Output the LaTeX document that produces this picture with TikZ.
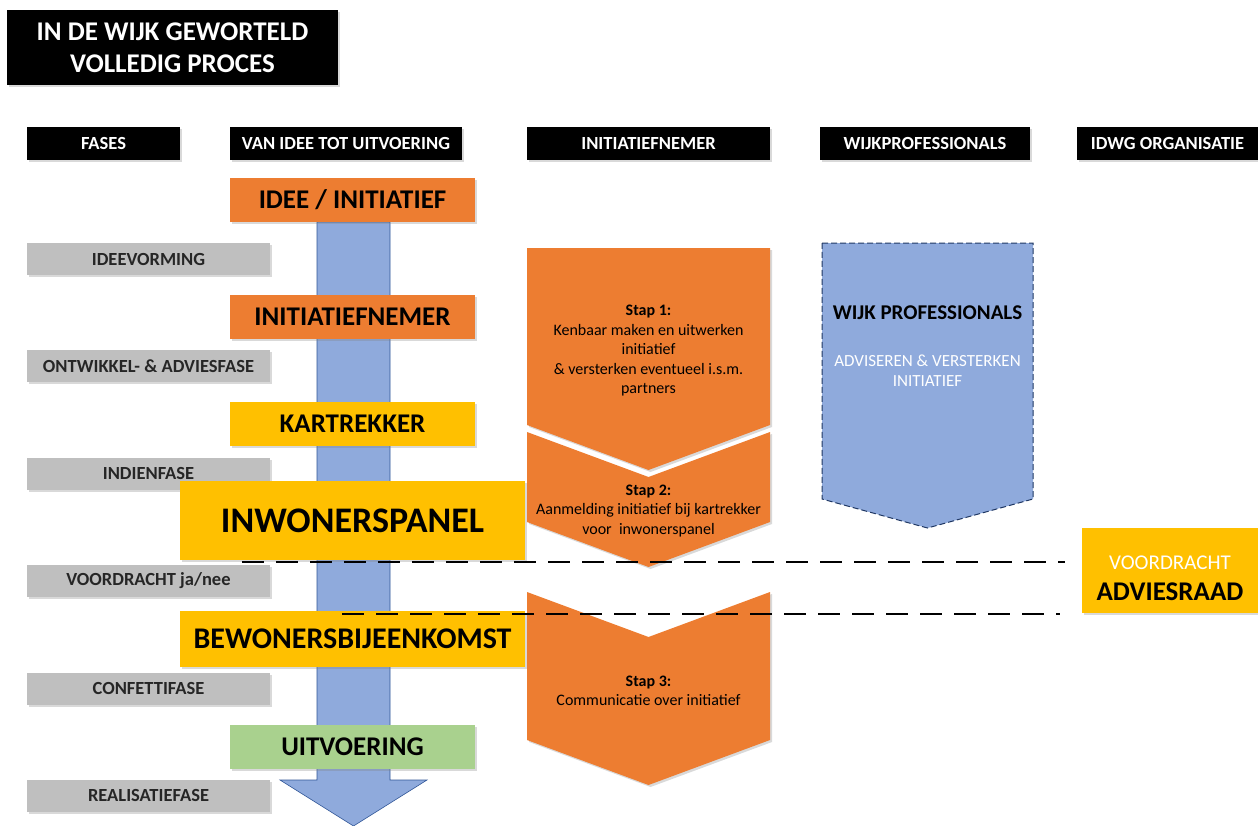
\documentclass[tikz,border=0pt]{standalone}
\usepackage{fontspec}
\setmainfont{Carlito}
\usetikzlibrary{shadows}
\definecolor{oranje}{HTML}{ED7D31}
\definecolor{geel}{HTML}{FFC000}
\definecolor{groen}{HTML}{A9D18E}
\definecolor{grijs}{HTML}{BFBFBF}
\definecolor{blauw}{HTML}{8FAADC}
\definecolor{donkerblauw}{HTML}{2F5597}
\definecolor{nachtblauw}{HTML}{203864}
\begin{document}
\begin{tikzpicture}[x=1pt, y=-1pt]
  \tikzset{
    schaduw/.style={drop shadow={shadow xshift=2pt, shadow yshift=-2pt, opacity=0.3}},
    kopstyle/.style={fill=black, text=white, minimum height=33pt, inner sep=0pt, anchor=center, schaduw, font=\fontsize{18.5}{21}\selectfont\bfseries},
    fasestyle/.style={fill=grijs, text=black!85, minimum width=243pt, minimum height=32pt, inner sep=0pt, anchor=center, schaduw, font=\fontsize{18.5}{21}\selectfont\bfseries},
    stapstyle/.style={minimum width=245pt, minimum height=44pt, inner sep=0pt, anchor=center, schaduw, font=\fontsize{27}{30}\selectfont\bfseries},
    grootstyle/.style={fill=geel, minimum width=345pt, inner sep=0pt, anchor=center, schaduw},
    steptekst/.style={align=center, font=\fontsize{16}{19.5}\selectfont},
    stippel/.style={line width=2.8pt, dash pattern=on 22pt off 12pt}
  }
  \useasboundingbox (0,0) rectangle (1258,825);
  % Titel en kolomkoppen
  \node[fill=black, text=white, minimum width=331pt, minimum height=75pt, align=center, schaduw, font=\fontsize{27}{32}\selectfont\bfseries] (titel) at (172.5,47.5) {IN DE WIJK GEWORTELD\\VOLLEDIG PROCES};
  \node[kopstyle, minimum width=153pt] (kopfases) at (103.5,143.5) {FASES};
  \node[kopstyle, minimum width=232pt] (kopidee) at (346,143.5) {VAN IDEE TOT UITVOERING};
  \node[kopstyle, minimum width=243pt] (kopinit) at (648.5,143.5) {INITIATIEFNEMER};
  \node[kopstyle, minimum width=210pt] (kopwijk) at (925,143.5) {WIJKPROFESSIONALS};
  \node[kopstyle, minimum width=181pt] (kopidwg) at (1167.5,143.5) {IDWG ORGANISATIE};
  % Grote pijl van idee tot uitvoering
  \fill[blauw, draw=donkerblauw, line width=0.6pt] (317,222) -- (390,222) -- (390,780) -- (427,780) -- (353.5,826) -- (280,780) -- (317,780) -- cycle;
  % Fases
  \node[fasestyle] (ideevorming) at (148.5,259) {IDEEVORMING};
  \node[fasestyle] (ontwikkel) at (148.5,366) {ONTWIKKEL- \& ADVIESFASE};
  \node[fasestyle] (indien) at (148.5,473.5) {INDIENFASE};
  \node[fasestyle] (voordracht) at (148.5,581) {VOORDRACHT ja/nee};
  \node[fasestyle] (confetti) at (148.5,688.5) {CONFETTIFASE};
  \node[fasestyle] (realisatie) at (148.5,795.5) {REALISATIEFASE};
  % Stappen van idee tot uitvoering
  \node[stapstyle, fill=oranje] (idee) at (352.5,200) {IDEE / INITIATIEF};
  \node[stapstyle, fill=oranje] (initiatiefnemer) at (352.5,316.5) {INITIATIEFNEMER};
  \node[stapstyle, fill=geel] (kartrekker) at (352.5,424) {KARTREKKER};
  \node[grootstyle, minimum height=79pt, font=\fontsize{36}{40}\selectfont\bfseries] (panel) at (352.5,520.5) {INWONERSPANEL};
  \node[grootstyle, minimum height=56pt, font=\fontsize{30}{34}\selectfont\bfseries] (bijeenkomst) at (352.5,639) {BEWONERSBIJEENKOMST};
  \node[stapstyle, fill=groen] (uitvoering) at (352.5,747) {UITVOERING};
  % Initiatiefnemer: stap 1 t/m 3
  \fill[oranje, schaduw] (527,248) -- (770,248) -- (770,425) -- (648.5,470) -- (527,425) -- cycle;
  \fill[oranje, schaduw] (527,432) -- (648.5,477) -- (770,432) -- (770,522) -- (648.5,567) -- (527,522) -- cycle;
  \fill[oranje, schaduw] (527,592) -- (648.5,637) -- (770,592) -- (770,740) -- (648.5,785) -- (527,740) -- cycle;
  \node[steptekst] (stap1) at (648.5,351) {\textbf{Stap 1:}\\Kenbaar maken en uitwerken\\initiatief\\\& versterken eventueel i.s.m.\\partners};
  \node[steptekst] (stap2) at (648.5,511) {\textbf{Stap 2:}\\Aanmelding initiatief bij kartrekker\\voor~~inwonerspanel};
  \node[steptekst] (stap3) at (648.5,691) {\textbf{Stap 3:}\\Communicatie over initiatief};
  % Wijkprofessionals
  \fill[blauw, draw=nachtblauw, dash pattern=on 6pt off 3pt, line width=1pt] (822,243) -- (1033,243) -- (1033,499) -- (927.5,528) -- (822,499) -- cycle;
  \node[font=\fontsize{21}{24}\selectfont\bfseries] (wijkprof) at (927.5,313) {WIJK PROFESSIONALS};
  \node[text=white, align=center, font=\fontsize{17}{20}\selectfont] (adviseren) at (927.5,371) {ADVISEREN \& VERSTERKEN\\INITIATIEF};
  % IDWG organisatie
  \node[fill=geel, minimum width=176pt, minimum height=85pt, inner sep=0pt, schaduw] (adviesraad) at (1170,570.5) {};
  \node[text=white, font=\fontsize{21}{24}\selectfont] (voordrachttekst) at (1170,563) {VOORDRACHT};
  \node[font=\fontsize{27}{30}\selectfont\bfseries] (adviesraadtekst) at (1170,592) {ADVIESRAAD};
  % Stippellijnen naar de adviesraad
  \coordinate (lijn1begin) at (242,562);
  \coordinate (lijn1eind) at (1065,562);
  \coordinate (lijn2begin) at (342,614);
  \coordinate (lijn2eind) at (1060,614);
  \draw[stippel] (lijn1begin) -- (lijn1eind);
  \draw[stippel] (lijn2begin) -- (lijn2eind);
\end{tikzpicture}
\end{document}
